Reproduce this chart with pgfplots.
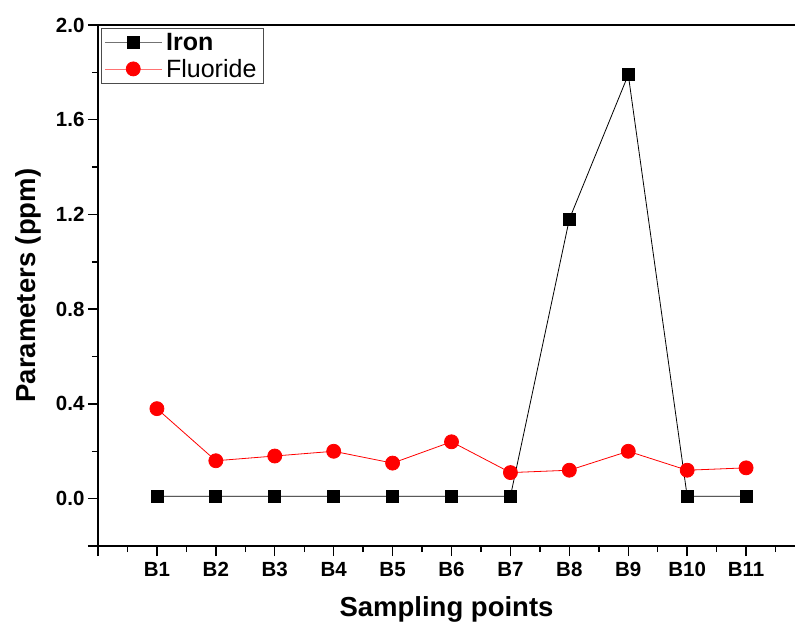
\documentclass[border=0pt]{standalone}
\usepackage{pgfplots}
\pgfplotsset{compat=1.18}
\usepackage{fontspec}
\setmainfont{Liberation Sans}

\begin{document}
\begin{tikzpicture}
\begin{axis}[
    name=ax,
    scale only axis,
    width=697pt, height=521pt,
    xmin=0, xmax=11.83,
    ymin=-0.2, ymax=2.0,
    axis x line=box, axis y line=left,
    axis line style={line width=1.6pt, -},
    xtick={0,1,2,3,4,5,6,7,8,9,10,11,12},
    xticklabels={,B1,B2,B3,B4,B5,B6,B7,B8,B9,B10,B11,},
    minor xtick={0.5,1.5,...,11.5},
    ytick={-0.2,0,0.4,0.8,1.2,1.6,2.0},
    yticklabels={,0.0,0.4,0.8,1.2,1.6,2.0},
    minor ytick={0.2,0.6,1.0,1.4,1.8},
    xtick pos=bottom, ytick pos=left,
    tick align=outside,
    major tick length=10pt, minor tick length=6pt,
    every tick/.style={line width=1.4pt, black},
    tick label style={font=\fontsize{20.5}{23}\selectfont\bfseries},
    xticklabel style={yshift=-3pt},
    xlabel={Sampling points},
    ylabel={Parameters (ppm)},
    label style={font=\fontsize{27.5}{31}\selectfont\bfseries},
    xlabel style={at={(rel axis cs:0.5,0)}, yshift=-47pt, anchor=north},
    ylabel style={yshift=8pt},
    legend style={at={(rel axis cs:0,1)}, anchor=north west, xshift=3pt, yshift=-3pt,
        draw=black!70, line width=0.8pt, font=\fontsize{25}{28}\selectfont,
        row sep=3pt, inner sep=3pt,
        nodes={inner xsep=4pt}},
    legend cell align=left,
    legend image code/.code={
        \draw[draw opacity=0.55] (0cm,0cm) -- (2cm,0cm);
        \draw plot coordinates {(1cm,0cm)};
    },
]
\addplot[black, line width=0.8pt, mark=square*, mark size=6pt, mark options={solid, fill=black}]
  coordinates {(1,0.01) (2,0.01) (3,0.01) (4,0.01) (5,0.01) (6,0.01) (7,0.01) (8,1.18) (9,1.79) (10,0.01) (11,0.01)};
\addlegendentry{\textbf{Iron}}
\addplot[red, line width=0.8pt, mark=*, mark size=7pt, mark options={solid, fill=red, draw=red}]
  coordinates {(1,0.38) (2,0.16) (3,0.18) (4,0.20) (5,0.15) (6,0.24) (7,0.11) (8,0.12) (9,0.20) (10,0.12) (11,0.13)};
\addlegendentry{Fluoride}
\end{axis}
\pgfresetboundingbox
\path ([shift={(-98pt,-78pt)}]ax.south west) rectangle ([shift={(0pt,25pt)}]ax.north east);
\end{tikzpicture}
\end{document}
